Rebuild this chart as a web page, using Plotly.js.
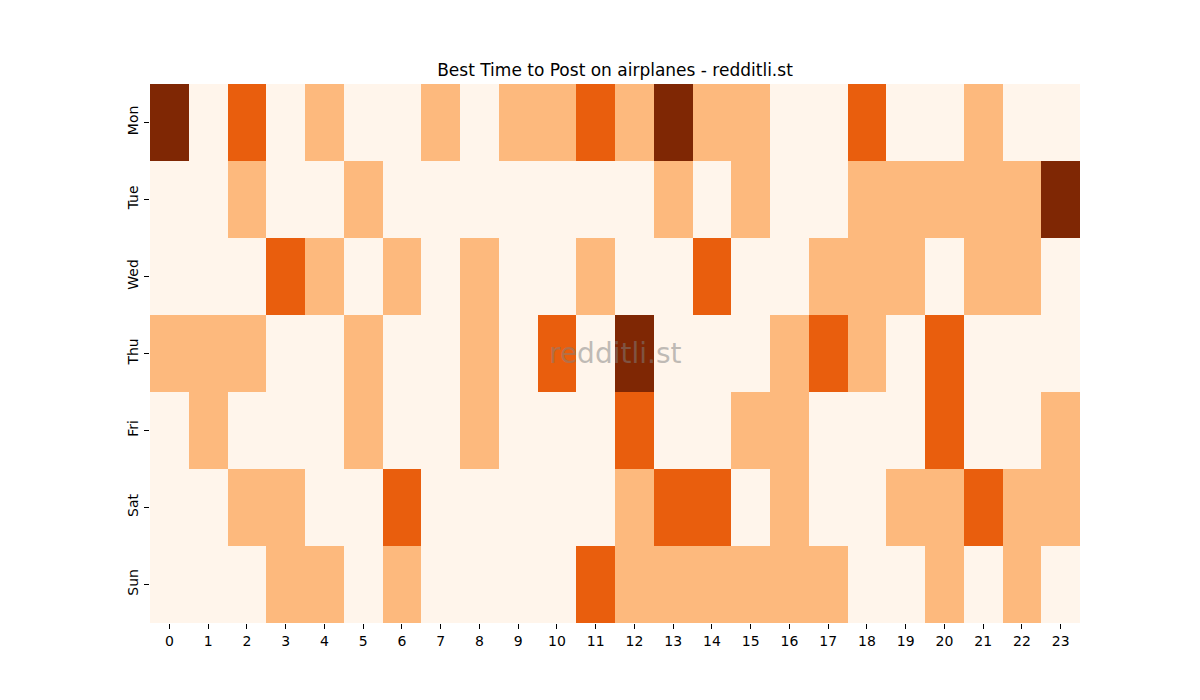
<!DOCTYPE html>
<html>
<head>
<meta charset="utf-8">
<script src="https://cdn.plot.ly/plotly-3.0.1.min.js"></script>
<style>body{margin:0;padding:0;background:#fff;}#chart{width:1200px;height:700px;}</style>
</head>
<body>
<div id="chart"></div>
<script>
const hours = [0,1,2,3,4,5,6,7,8,9,10,11,12,13,14,15,16,17,18,19,20,21,22,23];
const days = ["Mon","Tue","Wed","Thu","Fri","Sat","Sun"];
const mon = [3,0,2,0,1,0,0,1,0,1,1,2,1,3,1,1,0,0,2,0,0,1,0,0];
const tue = [0,0,1,0,0,1,0,0,0,0,0,0,0,1,0,1,0,0,1,1,1,1,1,3];
const wed = [0,0,0,2,1,0,1,0,1,0,0,1,0,0,2,0,0,1,1,1,0,1,1,0];
const thu = [1,1,1,0,0,1,0,0,1,0,2,0,3,0,0,0,1,2,1,0,2,0,0,0];
const fri = [0,1,0,0,0,1,0,0,1,0,0,0,2,0,0,1,1,0,0,0,2,0,0,1];
const sat = [0,0,1,1,0,0,2,0,0,0,0,0,1,2,2,0,1,0,0,1,1,2,1,1];
const sun = [0,0,0,1,1,0,1,0,0,0,0,2,1,1,1,1,1,1,0,0,1,0,1,0];
const z = [mon,tue,wed,thu,fri,sat,sun];

const colorscale = [
  [0, "#fff5eb"], [0.1667, "#fff5eb"],
  [0.1667, "#fdb97d"], [0.5, "#fdb97d"],
  [0.5, "#e95e0d"], [0.8333, "#e95e0d"],
  [0.8333, "#7f2704"], [1, "#7f2704"]
];

const data = [{
  type: "heatmap",
  x: hours,
  y: days,
  z: z,
  zmin: 0, zmax: 3,
  colorscale: colorscale,
  showscale: false,
  xgap: 0, ygap: 0,
  hoverongaps: false
}];

const font = {family: "DejaVu Sans, sans-serif", size: 14, color: "#000"};
const layout = {
  width: 1200, height: 700,
  margin: {l: 150, r: 120, t: 84, b: 77, pad: 0},
  paper_bgcolor: "#fff",
  plot_bgcolor: "#fff",
  font: font,
  title: {text: "Best Time to Post on airplanes - redditli.st", xref: "paper", x: 0.5, xanchor: "center", y: 0.9, yanchor: "middle", yref: "container", font: {family: "DejaVu Sans, sans-serif", size: 17, color: "#000"}},
  xaxis: {
    tickmode: "array", tickvals: hours, ticktext: hours.map(String),
    ticks: "outside", ticklen: 5, tickwidth: 1, tickcolor: "#000",
    showgrid: false, zeroline: false, showline: false,
    range: [-0.5, 23.5], fixedrange: true,
    tickfont: {family: "DejaVu Sans, sans-serif", size: 14, color: "#000"}
  },
  yaxis: {
    tickmode: "array", tickvals: days, ticktext: days,
    autorange: "reversed",
    ticks: "outside", ticklen: 5, tickwidth: 1, tickcolor: "#000",
    tickangle: -90,
    showgrid: false, zeroline: false, showline: false,
    tickfont: {family: "DejaVu Sans, sans-serif", size: 14, color: "#000"}
  },
  annotations: [{
    text: "redditli.st", xref: "paper", yref: "paper", x: 0.5, y: 0.5,
    xanchor: "center", yanchor: "middle", showarrow: false,
    font: {family: "DejaVu Sans, sans-serif", size: 28, color: "rgba(128,128,128,0.5)"}
  }]
};

Plotly.newPlot("chart", data, layout, {displayModeBar: false, staticPlot: true});
</script>
</body>
</html>
